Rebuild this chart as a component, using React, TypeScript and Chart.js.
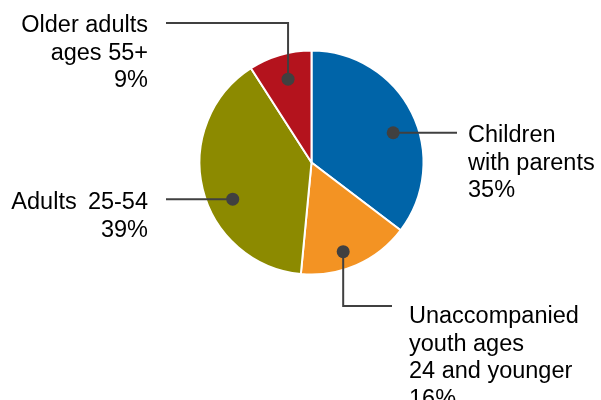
import React, { useEffect, useRef } from "react";
import { Chart, registerables } from "chart.js";

Chart.register(...registerables);

const categories = [
  "Children with parents",
  "Unaccompanied youth ages 24 and younger",
  "Adults 25-54",
  "Older adults ages 55+",
];
const shares = [35, 16, 39, 9];
const sliceColors = ["#0064A8", "#F39323", "#8C8A00", "#B4131D"];
const labelLines = [
  ["Children", "with parents", "35%"],
  ["Unaccompanied", "youth ages", "24 and younger", "16%"],
  ["Adults \u200925-54", "39%"],
  ["Older adults", "ages 55+", "9%"],
];

// Label layout (positions only)
const labelLayout = [
  { angleFrac: 0.55, radiusFrac: 0.776, elbowY: null as number | null, endX: 457, textX: 468, align: "left", baseline: 142 },
  { angleFrac: 0.57, radiusFrac: 0.845, elbowY: 306, endX: 392, textX: 409, align: "left", baseline: 323 },
  { angleFrac: 0.42, radiusFrac: 0.776, elbowY: null, endX: 166, textX: 148, align: "right", baseline: 209 },
  { angleFrac: 0.52, radiusFrac: 0.773, elbowY: 23, endX: 166, textX: 148, align: "right", baseline: 32 },
];

const LINE_HEIGHT = 27.5;
const FONT = '23.5px "Liberation Sans", Arial, sans-serif';

const leaderPlugin = {
  id: "leaderLabels",
  afterDraw(chart: any) {
    const ctx = chart.ctx as CanvasRenderingContext2D;
    const meta = chart.getDatasetMeta(0);
    ctx.save();
    meta.data.forEach((arc: any, i: number) => {
      const L = labelLayout[i];
      const { x, y, startAngle, endAngle, outerRadius } = arc.getProps(
        ["x", "y", "startAngle", "endAngle", "outerRadius"],
        true
      );
      const a = startAngle + L.angleFrac * (endAngle - startAngle);
      const r = outerRadius * L.radiusFrac;
      const px = x + Math.cos(a) * r;
      const py = y + Math.sin(a) * r;

      ctx.strokeStyle = "#404040";
      ctx.lineWidth = 2;
      ctx.beginPath();
      ctx.moveTo(px, py);
      if (L.elbowY !== null) {
        ctx.lineTo(px, L.elbowY);
        ctx.lineTo(L.endX, L.elbowY);
      } else {
        ctx.lineTo(L.endX, py);
      }
      ctx.stroke();

      ctx.fillStyle = "#404040";
      ctx.beginPath();
      ctx.arc(px, py, 6.5, 0, Math.PI * 2);
      ctx.fill();

      ctx.fillStyle = "#000000";
      ctx.font = FONT;
      ctx.textAlign = L.align as CanvasTextAlign;
      ctx.textBaseline = "alphabetic";
      labelLines[i].forEach((t, k) => {
        ctx.fillText(t, L.textX, L.baseline + k * LINE_HEIGHT);
      });
    });
    ctx.restore();
  },
};

export default function App() {
  const canvasRef = useRef<HTMLCanvasElement | null>(null);

  useEffect(() => {
    document.body.style.margin = "0";
    const canvas = canvasRef.current;
    if (!canvas) return;
    const chart = new Chart(canvas, {
      type: "pie",
      data: {
        labels: categories,
        datasets: [
          {
            data: shares,
            backgroundColor: sliceColors,
            borderColor: "#ffffff",
            borderWidth: 2,
            radius: 112,
          } as any,
        ],
      },
      options: {
        animation: false,
        responsive: true,
        maintainAspectRatio: false,
        layout: { padding: { left: 200, right: 178, top: 51, bottom: 126 } },
        plugins: {
          legend: { display: false },
          tooltip: { enabled: false },
        },
      },
      plugins: [leaderPlugin],
    });
    return () => chart.destroy();
  }, []);

  return (
    <div style={{ position: "absolute", left: 0, top: 0, width: 601, height: 400, background: "#fff" }}>
      <canvas ref={canvasRef} />
    </div>
  );
}
